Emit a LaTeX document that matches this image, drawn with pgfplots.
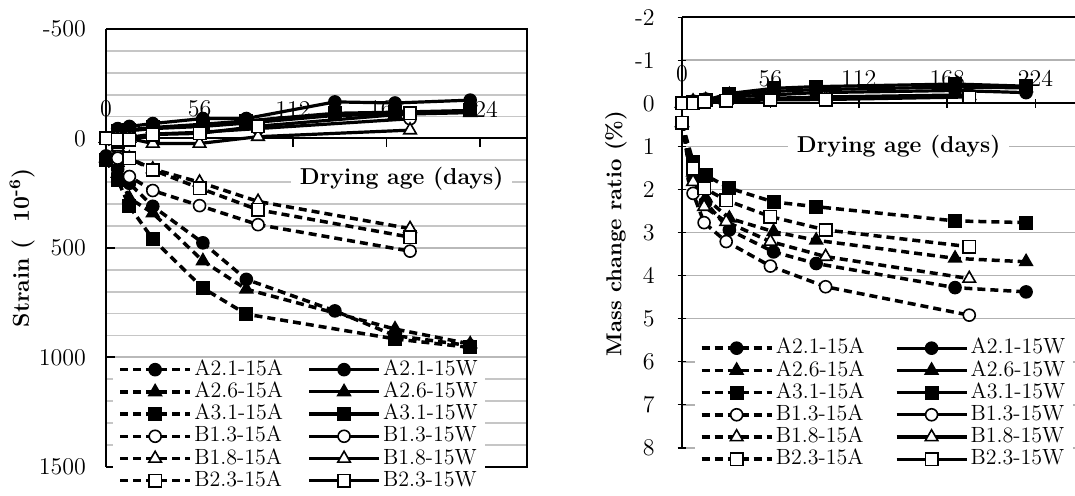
\documentclass[border=0pt]{standalone}
\usepackage{pgfplots}
\pgfplotsset{compat=1.18}
\pgfplotsset{
  base/.style={
    scale only axis, anchor=south west, clip=false,
    y dir=reverse,
    axis x line*=middle, axis y line*=left,
    xtick={0,56,112,168,224}, xmin=0,
    axis line style={black, line width=1pt},
    tick style={black, line width=0.8pt},
    ymajorgrids,
    tick label style={font=\fontsize{12}{14}\selectfont},
    /pgf/number format/assume math mode=true,
    /pgf/number format/1000 sep={},
    scaled y ticks=false,
    xticklabel style={anchor=south, yshift=7pt},
    legend columns=2, legend cell align=left,
    legend image code/.code={%
      \draw[mark repeat=2,mark phase=2,#1] plot coordinates {(0pt,0pt) (17.5pt,0pt) (35pt,0pt)};},
    legend style={draw=none, fill=white, inner xsep=2.5pt, inner ysep=0pt, anchor=north west,
      font=\fontsize{11}{12}\selectfont,
      nodes={inner ysep=0pt, inner xsep=1.25pt, text height=8.4pt, text depth=2.7pt}},
  },
  sA/.style={black, line width=1.75pt, dash pattern=on 4pt off 2.5pt},
  sW/.style={black, line width=1.6pt},
  mC/.style={mark=*, mark size=3pt, mark options={solid, fill=black, line width=0.8pt}},
  mT/.style={mark=triangle*, mark size=3.6pt, mark options={solid, fill=black, line width=0.8pt}},
  mS/.style={mark=square*, mark size=3.1pt, mark options={solid, fill=black, line width=0.8pt}},
  oC/.style={mark=*, mark size=3pt, mark options={solid, fill=white, line width=0.8pt}},
  oT/.style={mark=triangle*, mark size=3.6pt, mark options={solid, fill=white, line width=0.8pt}},
  oS/.style={mark=square*, mark size=3.1pt, mark options={solid, fill=white, line width=0.8pt}},
}
\begin{document}
\begin{tikzpicture}[font=\fontsize{12}{14}\selectfont]
\useasboundingbox (0,0) rectangle (537.5pt,247.5pt);

% strain
\begin{axis}[base,
  at={(53pt,14.15pt)}, width=210.5pt, height=218.85pt,
  xmax=252, ymin=-500, ymax=1500,
  ytick={-500,0,500,1000,1500},
  minor ytick={-400,-300,-200,-100,100,200,300,400,600,700,800,900,1100,1200,1300,1400},
  yminorgrids, minor tick length=0pt,
  major grid style={gray!55, line width=0.9pt},
  minor grid style={gray!45, line width=0.9pt},
  xtick align=inside,
  yticklabel style={xshift=-6.5pt},
  legend style={at={(0.0166,0.248)}, /tikz/every even column/.append style={column sep=11pt}},
]
\node[fill=white, inner xsep=4.5pt, inner ysep=3pt, font=\bfseries\fontsize{11.5}{13}\selectfont]
  at (axis cs:177,182) {Drying age (days)};
\draw[black, line width=1pt] (axis cs:0,-500) -- (axis cs:252,-500) -- (axis cs:252,1500) -- (axis cs:0,1500);
\node[anchor=south, yshift=7pt] at (axis cs:0,0) {0};

\addplot[sA, mC] coordinates {(0,80) (7,140) (14,205) (28,310) (58,477) (84,644) (137,788) (173,901) (218,947)};
\addlegendentry{A2.1-15A}
\addplot[sW, mC] coordinates {(0,0) (7,-45) (14,-55) (28,-68) (58,-91) (84,-91) (137,-167) (173,-162) (218,-175)};
\addlegendentry{A2.1-15W}
\addplot[sA, mT] coordinates {(0,90) (7,160) (14,273) (28,341) (58,560) (84,689) (173,871) (218,939)};
\addlegendentry{A2.6-15A}
\addplot[sW, mT] coordinates {(0,0) (7,-30) (14,-35) (28,-45) (58,-55) (84,-70) (137,-105) (173,-110) (218,-118)};
\addlegendentry{A2.6-15W}
\addplot[sA, mS] coordinates {(0,100) (7,190) (14,310) (28,460) (58,684) (84,803) (173,916) (218,955)};
\addlegendentry{A3.1-15A}
\addplot[sW, mS] coordinates {(0,0) (7,-35) (14,-40) (28,-50) (58,-65) (84,-80) (137,-115) (173,-120) (218,-128)};
\addlegendentry{A3.1-15W}
\addplot[sA, oC] coordinates {(0,0) (7,90) (14,174) (28,238) (56,307) (91,394) (182,515)};
\addlegendentry{B1.3-15A}
\addplot[sW, oC] coordinates {(0,0) (7,-5) (14,-5) (28,-20) (56,-28) (91,-45) (182,-90)};
\addlegendentry{B1.3-15W}
\addplot[sA, oT] coordinates {(0,0) (7,40) (14,90) (28,140) (56,200) (91,288) (182,412)};
\addlegendentry{B1.8-15A}
\addplot[sW, oT] coordinates {(0,0) (7,0) (14,0) (28,23) (56,23) (91,-8) (182,-38)};
\addlegendentry{B1.8-15W}
\addplot[sA, oS] coordinates {(0,0) (7,15) (14,91) (28,144) (56,227) (91,326) (182,451)};
\addlegendentry{B2.3-15A}
\addplot[sW, oS] coordinates {(0,0) (7,5) (14,5) (28,-18) (56,-23) (91,-56) (182,-114)};
\addlegendentry{B2.3-15W}
\end{axis}

% mass change
\begin{axis}[base,
  at={(341pt,23.65pt)}, width=196.5pt, height=215.2pt,
  xmax=249, ymin=-2, ymax=8,
  ytick={-2,-1,0,1,2,3,4,5,6,7,8},
  major grid style={gray!60, line width=0.9pt},
  xtick align=center, ytick align=center,
  yticklabel style={xshift=-8pt},
  legend style={at={(0.0318,0.258)}, /tikz/every even column/.append style={column sep=14pt}},
]
\node[fill=white, inner xsep=4.5pt, inner ysep=3pt, font=\bfseries\fontsize{11.5}{13}\selectfont]
  at (axis cs:137.3,1.01) {Drying age (days)};
\draw[black, line width=1pt] (axis cs:0,-2) -- (axis cs:249,-2);
\node[anchor=south, yshift=7pt] at (axis cs:0,0) {0};

\addplot[sA, mC] coordinates {(0,0.45) (7,1.75) (15,2.3) (30,2.94) (58,3.45) (85,3.72) (173,4.28) (218,4.38)};
\addlegendentry{A2.1-15A}
\addplot[sW, mC] coordinates {(0,0) (7,-0.05) (15,-0.1) (30,-0.15) (58,-0.2) (85,-0.25) (173,-0.3) (218,-0.25)};
\addlegendentry{A2.1-15W}
\addplot[sA, mT] coordinates {(0,0.45) (7,1.6) (15,2.2) (30,2.67) (58,2.98) (85,3.18) (173,3.6) (218,3.68)};
\addlegendentry{A2.6-15A}
\addplot[sW, mT] coordinates {(0,0) (7,-0.05) (15,-0.08) (30,-0.2) (58,-0.28) (85,-0.32) (173,-0.38) (218,-0.36)};
\addlegendentry{A2.6-15W}
\addplot[sA, mS] coordinates {(0,0.45) (7,1.35) (15,1.67) (30,1.97) (58,2.29) (85,2.4) (173,2.73) (218,2.77)};
\addlegendentry{A3.1-15A}
\addplot[sW, mS] coordinates {(0,0) (7,-0.04) (15,-0.07) (30,-0.23) (58,-0.35) (85,-0.39) (173,-0.45) (218,-0.4)};
\addlegendentry{A3.1-15W}
\addplot[sA, oC] coordinates {(0,0.45) (7,2.09) (14,2.77) (28,3.21) (56,3.78) (91,4.26) (182,4.92)};
\addlegendentry{B1.3-15A}
\addplot[sW, oC] coordinates {(0,0) (7,-0.03) (14,-0.06) (28,-0.08) (56,-0.12) (91,-0.15) (182,-0.2)};
\addlegendentry{B1.3-15W}
\addplot[sA, oT] coordinates {(0,0.45) (7,1.82) (14,2.4) (28,2.75) (56,3.21) (91,3.56) (182,4.07)};
\addlegendentry{B1.8-15A}
\addplot[sW, oT] coordinates {(0,0) (7,-0.02) (14,-0.04) (28,-0.07) (56,-0.1) (91,-0.13) (182,-0.18)};
\addlegendentry{B1.8-15W}
\addplot[sA, oS] coordinates {(0,0.45) (7,1.51) (14,1.97) (28,2.25) (56,2.63) (91,2.94) (182,3.33)};
\addlegendentry{B2.3-15A}
\addplot[sW, oS] coordinates {(0,0) (7,0) (14,-0.04) (28,-0.06) (56,-0.08) (91,-0.09) (182,-0.15)};
\addlegendentry{B2.3-15W}
\end{axis}

\node[rotate=90, font=\bfseries\fontsize{11.5}{13}\selectfont] at (11pt,123.5pt) {Strain (\ \ 10\textsuperscript{-6})};
\node[rotate=90, font=\bfseries\fontsize{10.8}{13}\selectfont] at (308pt,130.75pt) {Mass change ratio (\%)};
\end{tikzpicture}
\end{document}
